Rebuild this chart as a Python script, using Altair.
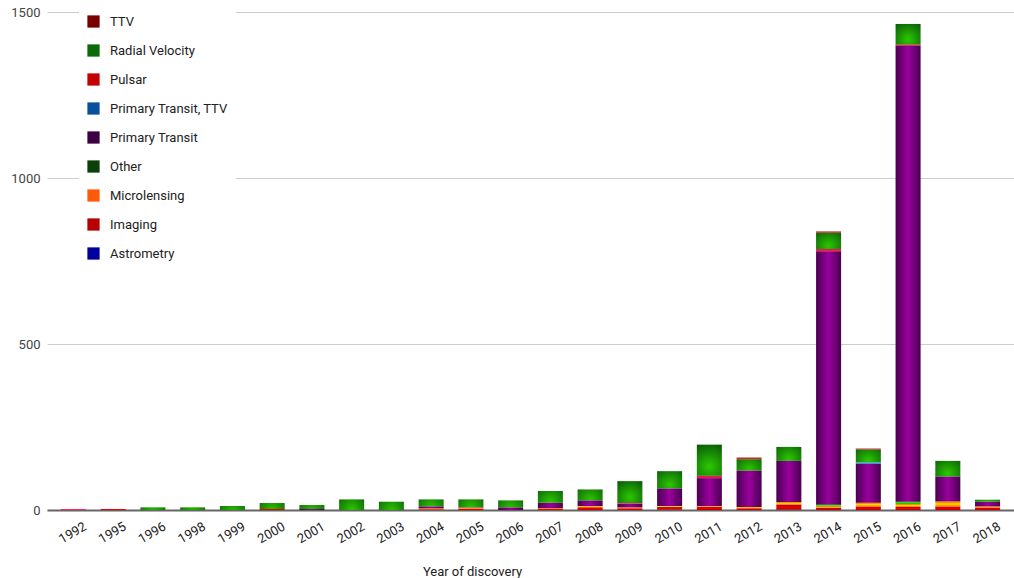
import altair as alt
import pandas as pd

years = ["1992", "1995", "1996", "1998", "1999", "2000", "2001", "2002", "2003",
         "2004", "2005", "2006", "2007", "2008", "2009", "2010", "2011", "2012",
         "2013", "2014", "2015", "2016", "2017", "2018"]

# series values (counts per year), stack order bottom -> top
astrometry = [0, 0, 0, 0, 0, 0, 0, 0, 0, 0, 0, 0, 0, 0, 0, 1, 0, 0, 1, 0, 0, 0, 0, 0]
imaging = [0, 3, 0, 0, 0, 3, 0, 0, 0, 2, 4, 0, 3, 8, 5, 8, 10, 5, 15, 6, 10, 9, 10, 7]
microlensing = [0, 0, 0, 0, 0, 0, 0, 0, 0, 3, 3, 0, 2, 4, 3, 3, 2, 4, 8, 5, 12, 9, 16, 4]
other = [0, 0, 0, 0, 0, 0, 0, 0, 0, 0, 0, 0, 0, 0, 0, 0, 0, 0, 0, 5, 0, 7, 0, 0]
primary_transit = [0, 0, 0, 0, 0, 0, 3, 0, 0, 6, 1, 8, 17, 17, 11, 53, 84, 110, 124, 763, 118, 1373, 75, 14]
primary_transit_ttv = [0, 0, 0, 0, 0, 0, 0, 0, 0, 0, 0, 0, 0, 0, 0, 0, 0, 0, 0, 0, 4, 0, 0, 0]
pulsar = [3, 0, 0, 0, 0, 0, 0, 0, 0, 0, 0, 0, 0, 0, 2, 0, 7, 0, 0, 7, 0, 4, 0, 0]
radial_velocity = [0, 0, 8, 8, 12, 18, 12, 32, 25, 21, 24, 21, 35, 33, 66, 52, 94, 34, 42, 49, 38, 62, 47, 6]
ttv = [0, 0, 0, 0, 0, 0, 0, 0, 0, 0, 0, 0, 0, 0, 0, 0, 0, 5, 0, 4, 3, 0, 0, 0]

methods_stack = ["Astrometry", "Imaging", "Microlensing", "Other", "Primary Transit",
                 "Primary Transit, TTV", "Pulsar", "Radial Velocity", "TTV"]
series = [astrometry, imaging, microlensing, other, primary_transit,
          primary_transit_ttv, pulsar, radial_velocity, ttv]

legend_order = list(reversed(methods_stack))
legend_colors = ["#7a0000", "#0b6b0b", "#c40000", "#0a4f9c", "#3d0040",
                 "#0a400a", "#ff5a0a", "#b80000", "#0000a0"]

rows = []
for order, (m, vals) in enumerate(zip(methods_stack, series)):
    for yr, v in zip(years, vals):
        if v > 0:
            rows.append({"year": yr, "method": m, "count": v, "order": order})
df = pd.DataFrame(rows)


def hgrad(edge, center):
    return alt.Gradient(gradient="linear", x1=0, x2=1, y1=0, y2=0,
                        stops=[alt.GradientStop(color=edge, offset=0),
                               alt.GradientStop(color=center, offset=0.5),
                               alt.GradientStop(color=edge, offset=1)])


def vgrad(edge, center):
    return alt.Gradient(gradient="linear", x1=0, x2=0, y1=0, y2=1,
                        stops=[alt.GradientStop(color=edge, offset=0),
                               alt.GradientStop(color=center, offset=0.5),
                               alt.GradientStop(color=edge, offset=1)])


def rgrad(edge, center):
    return alt.Gradient(gradient="radial", x1=0.5, y1=0.7, r1=0, x2=0.5, y2=0.7, r2=0.8,
                        stops=[alt.GradientStop(color=center, offset=0),
                               alt.GradientStop(color=edge, offset=1)])


fills = {
    "Astrometry": vgrad("#10108a", "#3030e0"),
    "Imaging": vgrad("#b00000", "#ee0000"),
    "Microlensing": vgrad("#ff5a00", "#ffe000"),
    "Other": vgrad("#1a9a00", "#40f000"),
    "Primary Transit": hgrad("#4a0052", "#9a009c"),
    "Primary Transit, TTV": vgrad("#1090c0", "#30e0f0"),
    "Pulsar": vgrad("#c80030", "#ff2a5a"),
    "Radial Velocity": rgrad("#08560a", "#2cc800"),
    "TTV": vgrad("#a01010", "#d83030"),
}

x_enc = alt.X("year:N", sort=years,
              scale=alt.Scale(paddingInner=0.37, paddingOuter=0.35),
              axis=alt.Axis(title="Year of discovery", titleFontSize=13,
                            titleFontWeight="normal", titleColor="#222222",
                            titleX=425, titleY=55, titleAlign="center",
                            labelAngle=-30, labelAlign="right", labelBaseline="top",
                            labelOffset=9, labelPadding=10, labelFontSize=13,
                            labelColor="#222222", ticks=False, grid=False,
                            domain=True, domainColor="#666666", domainWidth=2))
y_enc = alt.Y("y1:Q", scale=alt.Scale(domain=[0, 1500], nice=False),
              axis=alt.Axis(title=None, values=[0, 500, 1000, 1500], format="d",
                            grid=True, gridColor="#cccccc", domain=False, ticks=False,
                            labelPadding=7, labelFontSize=13, labelColor="#444444"))

base = alt.Chart(df).transform_stack(
    stack="count", groupby=["year"], as_=["y0", "y1"],
    sort=[alt.SortField("order", order="ascending")])

legend_layer = base.mark_bar(opacity=0).encode(
    x=x_enc, y=y_enc, y2="y0:Q",
    color=alt.Color("method:N", title=None,
                    scale=alt.Scale(domain=legend_order, range=legend_colors),
                    legend=alt.Legend(orient="none", legendX=32, legendY=-5,
                                      fillColor="white", padding=8,
                                      symbolType="square", symbolSize=150,
                                      symbolOpacity=1, symbolStrokeWidth=0,
                                      labelFontSize=13, labelColor="#222222",
                                      labelOffset=10, rowPadding=15,
                                      labelLimit=300)))

layers = [legend_layer]
for m in methods_stack:
    layers.append(
        base.transform_filter(alt.datum.method == m)
        .mark_bar(fill=fills[m])
        .encode(x=x_enc, y=y_enc, y2="y0:Q")
    )

chart = alt.layer(*layers).properties(
    width=967, height=498,
    autosize=alt.AutoSizeParams(type="none"),
    padding={"left": 47, "top": 12, "right": 0, "bottom": 68},
).configure(font="Roboto").configure_view(stroke=None)

chart.save("out.html", embed_options={"renderer": "svg", "actions": False})
